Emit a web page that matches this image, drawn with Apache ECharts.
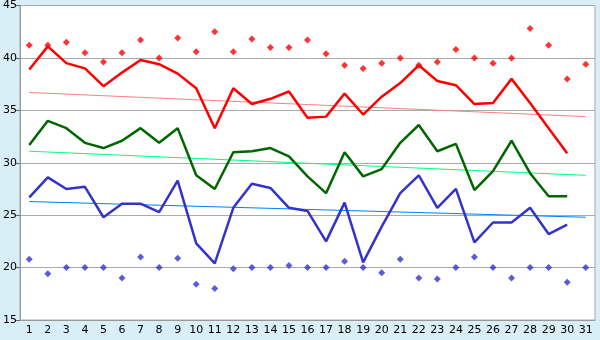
<!DOCTYPE html>
<html>
<head>
<meta charset="utf-8">
<script src="https://cdn.jsdelivr.net/npm/echarts@6/dist/echarts.min.js"></script>
<style>
  html, body { margin: 0; padding: 0; background: #d9eff7; }
  #chart { width: 600px; height: 340px; }
</style>
</head>
<body>
<div id="chart"></div>
<script>
// categories 1..31
const days = ['1','2','3','4','5','6','7','8','9','10','11','12','13','14','15','16',
  '17','18','19','20','21','22','23','24','25','26','27','28','29','30','31'];

// main lines (day 31 empty)
const redLine = [38.9, 41.1, 39.5, 39.0, 37.3, 38.6, 39.8, 39.4, 38.5, 37.1, 33.3, 37.1, 35.6, 36.1, 36.8,
  34.3, 34.4, 36.6, 34.6, 36.3, 37.6, 39.3, 37.8, 37.4, 35.6, 35.7, 38.0, 35.7, 33.3, 30.9, null];
const greenLine = [31.7, 34.0, 33.3, 31.9, 31.4, 32.1, 33.3, 31.9, 33.3, 28.8, 27.5, 31.0, 31.1, 31.4, 30.6,
  28.7, 27.1, 31.0, 28.7, 29.4, 31.9, 33.6, 31.1, 31.8, 27.4, 29.2, 32.1, 29.0, 26.8, 26.8, null];
const blueLine = [26.7, 28.6, 27.5, 27.7, 24.8, 26.1, 26.1, 25.3, 28.3, 22.3, 20.4, 25.7, 28.0, 27.6, 25.7,
  25.4, 22.5, 26.2, 20.5, 23.9, 27.1, 28.8, 25.7, 27.5, 22.4, 24.3, 24.3, 25.7, 23.2, 24.1, null];

// scatter points
const redDots = [41.2, 41.2, 41.5, 40.5, 39.6, 40.5, 41.7, 40.0, 41.9, 40.6, 42.5, 40.6, 41.8, 41.0, 41.0,
  41.7, 40.4, 39.3, 39.0, 39.5, 40.0, 39.3, 39.6, 40.8, 40.0, 39.5, 40.0, 42.8, 41.2, 38.0, 39.4];
const blueDots = [20.8, 19.4, 20.0, 20.0, 20.0, 19.0, 21.0, 20.0, 20.9, 18.4, 18.0, 19.9, 20.0, 20.0, 20.2,
  20.0, 20.0, 20.6, 20.0, 19.5, 20.8, 19.0, 18.9, 20.0, 21.0, 20.0, 19.0, 20.0, 20.0, 18.6, 20.0];

// trend lines: value at day 1 and day 31
const redTrend = [36.7, 34.4];
const greenTrend = [31.1, 28.8];
const blueTrend = [26.3, 24.8];

const yTicks = [15, 45, 5];

const chart = echarts.init(document.getElementById('chart'));

function trend(vals, color) {
  return {
    type: 'line',
    data: [[days[0], vals[0]], [days[days.length - 1], vals[1]]],
    showSymbol: false,
    silent: true,
    lineStyle: { color: color, width: 1 },
    z: 2
  };
}

function mainLine(vals, color) {
  return {
    type: 'line',
    data: vals,
    showSymbol: false,
    lineStyle: { color: color, width: 2.5 },
    z: 3
  };
}

function dots(vals, color) {
  return {
    type: 'scatter',
    data: vals,
    symbol: 'diamond',
    symbolSize: 7,
    itemStyle: { color: color },
    z: 4
  };
}

chart.setOption({
  backgroundColor: '#d9eff7',
  animation: false,
  grid: {
    left: 20, right: 5, top: 5, bottom: 20,
    show: true, backgroundColor: '#ffffff', borderColor: '#aaaaaa', borderWidth: 1
  },
  xAxis: {
    type: 'category',
    data: days,
    boundaryGap: true,
    axisLine: { lineStyle: { color: '#999999' } },
    axisTick: { alignWithLabel: true, length: 4, lineStyle: { color: '#666666' } },
    axisLabel: { color: '#000000', fontFamily: 'DejaVu Sans', fontSize: 11, margin: 5, interval: 0 },
    splitLine: { show: false }
  },
  yAxis: {
    type: 'value',
    min: yTicks[0], max: yTicks[1], interval: yTicks[2],
    axisLine: { show: true, lineStyle: { color: '#999999' } },
    axisTick: { show: true, length: 4, lineStyle: { color: '#666666' } },
    axisLabel: { color: '#000000', fontFamily: 'DejaVu Sans', fontSize: 11, margin: 3 },
    splitLine: { lineStyle: { color: '#aaaaaa' } }
  },
  series: [
    trend(redTrend, '#ff7f7f'),
    trend(greenTrend, '#00ff80'),
    trend(blueTrend, '#0080ff'),
    mainLine(redLine, '#ff0000'),
    mainLine(greenLine, '#006600'),
    mainLine(blueLine, '#3333cc'),
    dots(redDots, '#ff0000'),
    dots(blueDots, '#3333cc')
  ]
});
</script>
</body>
</html>
